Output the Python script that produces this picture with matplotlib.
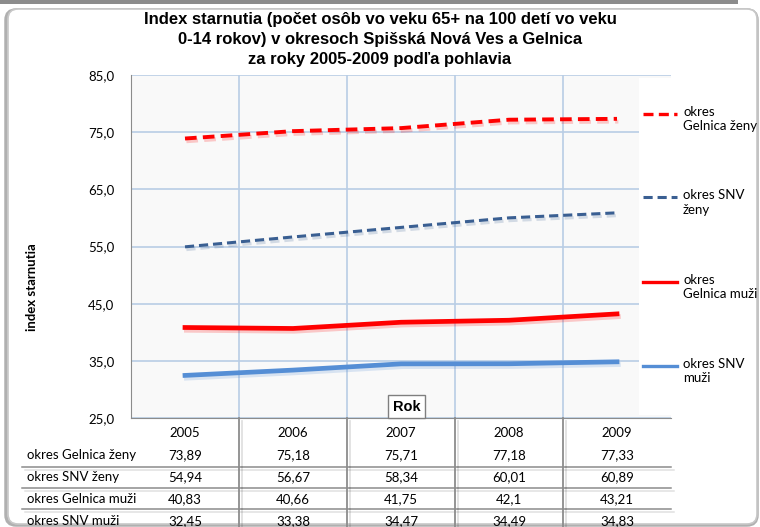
import matplotlib
matplotlib.use("Agg")
import matplotlib.pyplot as plt
import matplotlib.patheffects as pe
from matplotlib.patches import FancyBboxPatch, Rectangle
from matplotlib.lines import Line2D
from matplotlib.transforms import IdentityTransform
import numpy as np

# data
years = ["2005", "2006", "2007", "2008", "2009"]
gelnica_zeny = [73.89, 75.18, 75.71, 77.18, 77.33]
snv_zeny = [54.94, 56.67, 58.34, 60.01, 60.89]
gelnica_muzi = [40.83, 40.66, 41.75, 42.1, 43.21]
snv_muzi = [32.45, 33.38, 34.47, 34.49, 34.83]
series_names = ["okres Gelnica ženy", "okres SNV ženy", "okres Gelnica muži", "okres SNV muži"]
legend_labels = ["okres\nGelnica ženy", "okres SNV\nženy", "okres\nGelnica muži", "okres SNV\nmuži"]
yticks = [25, 35, 45, 55, 65, 75, 85]
title = ("Index starnutia (počet osôb vo veku 65+ na 100 detí vo veku\n"
         "0-14 rokov) v okresoch Spišská Nová Ves a Gelnica\n"
         "za roky 2005-2009 podľa pohlavia")

W, H = 760, 527
body = ["Lato", "DejaVu Sans"]
narrow = ["Liberation Sans Narrow", "Liberation Sans", "DejaVu Sans"]

def fx(x):
    return x / W

def fy(y):
    return 1 - y / H

fig = plt.figure(figsize=(7.6, 5.27), dpi=100)

# outer chart frame + strip of the box above
fig.patches.append(Rectangle((0, H - 4), 738, 6, transform=IdentityTransform(),
                             facecolor="#8c8c8c", edgecolor="none", zorder=-2))
fig.patches.append(FancyBboxPatch((6, 2), 751, H - 12, boxstyle="round,pad=0,rounding_size=10",
                                  transform=IdentityTransform(), facecolor="none",
                                  edgecolor="#b0b0b0", linewidth=2.5, zorder=-2))
fig.patches.append(FancyBboxPatch((8, 3), 749, H - 12, boxstyle="round,pad=0,rounding_size=10",
                                  transform=IdentityTransform(), facecolor="white",
                                  edgecolor="#c8c8c8", linewidth=1.2, zorder=-1))

ax_l, ax_r, ax_t, ax_b = 131, 671, 75, 418
ax = fig.add_axes([fx(ax_l), fy(ax_b), fx(ax_r) - fx(ax_l), (ax_b - ax_t) / H])
ax.set_facecolor("#f9f9f9")
x = np.arange(len(years))

styles = [
    (gelnica_zeny, "#ff0000", (0, (3, 1.6)), 2.8),
    (snv_zeny, "#3a5f92", (0, (3, 1.6)), 2.2),
    (gelnica_muzi, "#ff0000", "-", 3.4),
    (snv_muzi, "#558ed5", "-", 3.4),
]
for vals, col, ls, lw in styles:
    shadow = [pe.SimpleLineShadow(offset=(1, -2), shadow_color=col, alpha=0.2), pe.Normal()]
    ax.plot(x, vals, color=col, linestyle=ls, linewidth=lw, zorder=3, path_effects=shadow)

ax.set_xlim(-0.5, len(years) - 0.5)
ax.set_ylim(25, 85)
ax.set_yticks(yticks)
ax.set_yticklabels([f"{v:.1f}".replace(".", ",") for v in yticks], family=body, fontsize=9.5)
ax.tick_params(axis="y", length=0, pad=12)
ax.set_xticks([])
ax.yaxis.grid(True, color="#b9cde5", linewidth=1.2)
ax.set_axisbelow(True)
for b in np.arange(0.5, len(years) - 1, 1):
    ax.axvline(b, color="#b9cde5", linewidth=1.2, zorder=1)
for s in ["top", "right"]:
    ax.spines[s].set_visible(False)
ax.spines["left"].set_color("#8c8c8c")
ax.spines["bottom"].set_color("#8c8c8c")

ax.text(2.05, 27.0, "Rok", ha="center", va="center", fontsize=10.5, fontweight="bold", family=narrow,
        bbox=dict(boxstyle="square,pad=0.3", facecolor="white", edgecolor="#7f7f7f", linewidth=1), zorder=5)

# data table below the axis
axh = ax_b - ax_t
axw = ax_r - ax_l
tr = ax.get_xaxis_transform()

def ay(y):
    return (ax_b - y) / axh

for i, yr in enumerate(years):
    ax.text(i, ay(433), yr, transform=tr, ha="center", va="center", family=body, fontsize=9.5, clip_on=False)

rows = [gelnica_zeny, snv_zeny, gelnica_muzi, snv_muzi]
row_y = [455, 477, 499, 521]
for name, vals, yy in zip(series_names, rows, row_y):
    ax.text((27 - ax_l) / axw, ay(yy), name, transform=ax.transAxes, ha="left", va="center",
            family=body, fontsize=9.5, clip_on=False)
    for i, v in enumerate(vals):
        ax.text(i, ay(yy), f"{v:g}".replace(".", ","), transform=tr, ha="center", va="center",
                family=body, fontsize=9.5, clip_on=False)

tshadow = [pe.SimpleLineShadow(offset=(2, -2), shadow_color="k", alpha=0.12), pe.Normal()]
for yy in [467, 488, 509]:
    ax.plot([(22 - ax_l) / axw, 1.0], [ay(yy), ay(yy)], transform=ax.transAxes, color="#8c8c8c",
            linewidth=1.1, clip_on=False, path_effects=tshadow)
for b in np.arange(0.5, len(years) - 1, 1):
    ax.plot([b, b], [0, ay(H + 5)], transform=tr, color="#8c8c8c", linewidth=1.3, clip_on=False,
            path_effects=tshadow)

# legend, drawn as a white panel on the right
fig.patches.append(Rectangle((fx(639), fy(415)), fx(W - 4) - fx(639), (415 - 78) / H,
                             transform=fig.transFigure, facecolor="white", edgecolor="none", zorder=2))
leg_y = [114, 197, 282, 366]
for (vals, col, ls, lw), lab, yy in zip(styles, legend_labels, leg_y):
    fig.lines.append(Line2D([fx(643), fx(677)], [fy(yy), fy(yy)], transform=fig.transFigure,
                            color=col, linestyle=ls, linewidth=min(lw, 2.4), zorder=3))
    fig.text(fx(683), fy(yy - 8), lab, ha="left", va="top", family=body, fontsize=9.5,
             linespacing=1.25, zorder=3)

fig.text(0.5, fy(12), title, ha="center", va="top", fontsize=12, fontweight="bold",
         family=narrow, linespacing=1.42)
fig.text(fx(32), fy(287), "index starnutia", rotation=90, ha="center", va="center",
         fontsize=9.5, fontweight="bold", family=body)

fig.savefig("out.png", dpi=100)
